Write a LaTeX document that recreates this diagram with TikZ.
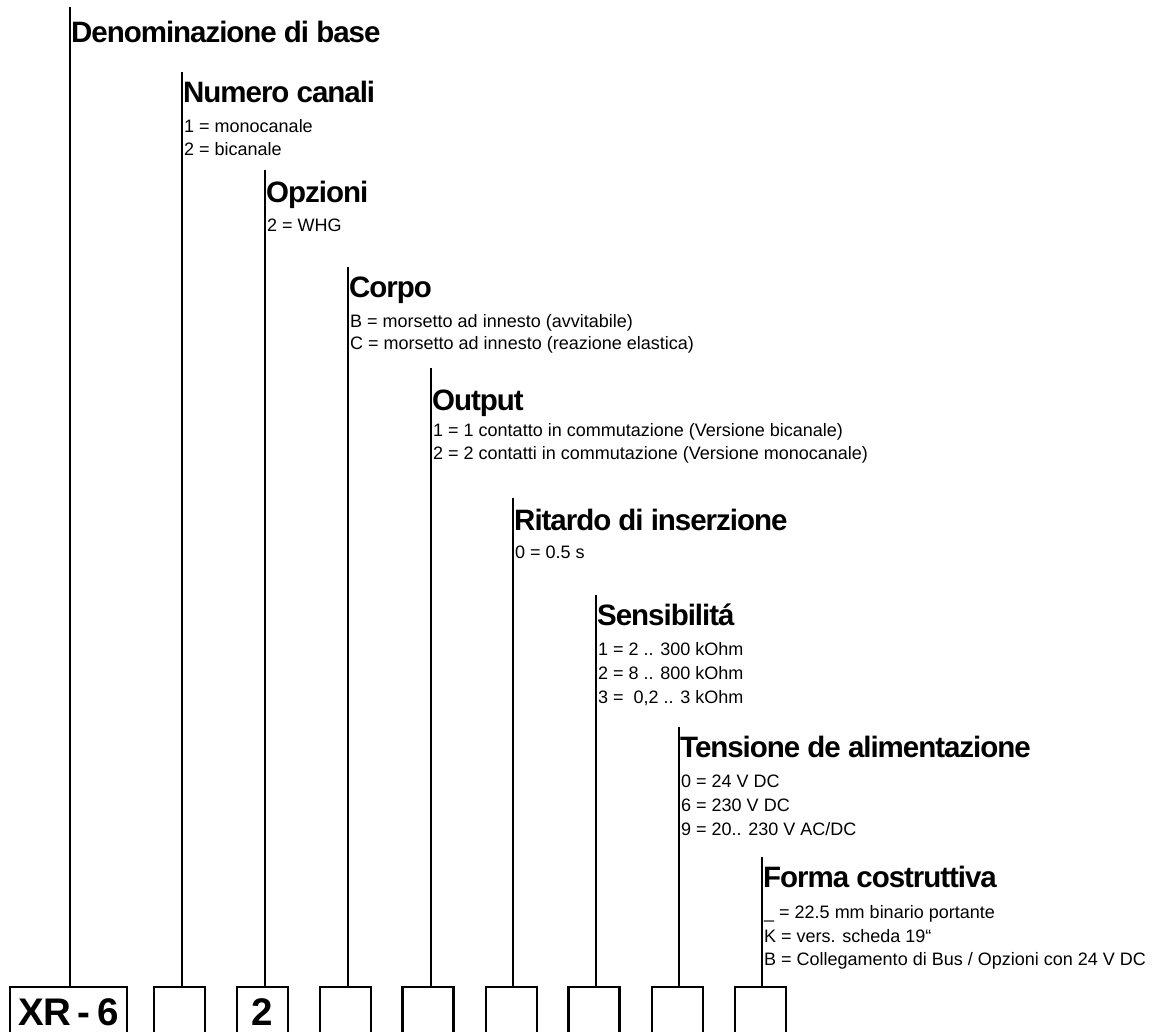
\documentclass[tikz,border=0pt]{standalone}
\usepackage{fontspec}
\setmainfont{Liberation Sans}
\newfontfamily\ttlfont[LetterSpace=-3.5]{Liberation Sans}
\newfontfamily\boxfont[LetterSpace=-2.5,WordSpace=0.7]{Liberation Sans}
\tikzset{
  conn/.style={line width=1.5pt},
  codebox/.style={draw, line width=2.2pt, minimum width=51pt, minimum height=48pt,
    inner sep=0pt, text height=28pt, text depth=0pt,
    font=\boxfont\fontsize{38.5}{42}\selectfont\bfseries},
  ttl/.style={anchor=base west, inner sep=0pt, font=\ttlfont\fontsize{29.5}{32}\selectfont\bfseries},
  itm/.style={anchor=base west, inner sep=0pt, font=\fontsize{18}{20}\selectfont},
}
\begin{document}
\begin{tikzpicture}[x=1pt,y=-1pt]
\useasboundingbox (0,0) rectangle (1173,1032);
\clip (0,0) rectangle (1173,1032);

% code boxes
\node[codebox, minimum width=117pt] (b1) at (68.5,1011) {XR - 6};
\node[codebox] (b2) at (179.5,1011) {};
\node[codebox] (b3) at (262.5,1011) {2};
\node[codebox] (b4) at (345.5,1011) {};
\node[codebox] (b5) at (428,1011) {};
\node[codebox] (b6) at (511.5,1011) {};
\node[codebox] (b7) at (594,1011) {};
\node[codebox] (b8) at (677.5,1011) {};
\node[codebox] (b9) at (760.5,1011) {};

% tops of the leader lines
\coordinate (t1) at (70,7);
\coordinate (t2) at (182,72);
\coordinate (t3) at (265,170);
\coordinate (t4) at (348,267);
\coordinate (t5) at (431,368);
\coordinate (t6) at (513,498);
\coordinate (t7) at (596,595);
\coordinate (t8) at (679,727);
\coordinate (t9) at (762,857);

\foreach \i in {1,...,9}{
  \draw[conn] (t\i) -- (t\i |- b\i.north);
}

% column 1
\node[ttl] (h1) at (71,43) {Denominazione di base};
% column 2
\node[ttl] (h2) at (183,103) {Numero canali};
\node[itm] (i2a) at (184,133) {1 = monocanale};
\node[itm] (i2b) at (184,156) {2 = bicanale};
% column 3
\node[ttl] (h3) at (266,203) {Opzioni};
\node[itm] (i3a) at (267,232) {2 = WHG};
% column 4
\node[ttl] (h4) at (349,298) {Corpo};
\node[itm] (i4a) at (350,327) {B = morsetto ad innesto (avvitabile)};
\node[itm] (i4b) at (350,350) {C = morsetto ad innesto (reazione elastica)};
% column 5
\node[ttl] (h5) at (432,410) {Output};
\node[itm] (i5a) at (433,436) {1 = 1 contatto in commutazione (Versione bicanale)};
\node[itm] (i5b) at (433,459) {2 = 2 contatti in commutazione (Versione monocanale)};
% column 6
\node[ttl] (h6) at (514,530) {Ritardo di inserzione};
\node[itm] (i6a) at (515,558) {0 = 0.5 s};
% column 7
\node[ttl] (h7) at (597,625) {Sensibilitá};
\node[itm] (i7a) at (598,655) {1 = 2 .. 300 kOhm};
\node[itm] (i7b) at (598,679) {2 = 8 .. 800 kOhm};
\node[itm] (i7c) at (598,703) {3 =\ \ 0,2 .. 3 kOhm};
% column 8
\node[ttl] (h8) at (680,757) {Tensione de alimentazione};
\node[itm] (i8a) at (681,787) {0 = 24 V DC};
\node[itm] (i8b) at (681,811) {6 = 230 V DC};
\node[itm] (i8c) at (681,835) {9 = 20.. 230 V AC/DC};
% column 9
\node[ttl] (h9) at (763,887) {Forma costruttiva};
\node[itm] (i9a) at (764,918) {\_ = 22.5 mm binario portante};
\node[itm] (i9b) at (764,942) {K = vers. scheda 19“};
\node[itm] (i9c) at (764,965) {B = Collegamento di Bus / Opzioni con 24 V DC};
\end{tikzpicture}
\end{document}
